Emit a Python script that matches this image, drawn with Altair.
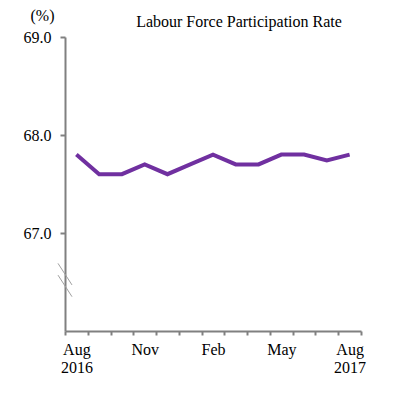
import altair as alt
import pandas as pd

months = ["Aug 2016", "Sep 2016", "Oct 2016", "Nov 2016", "Dec 2016", "Jan 2017",
          "Feb 2017", "Mar 2017", "Apr 2017", "May 2017", "Jun 2017", "Jul 2017", "Aug 2017"]
rate = [67.8, 67.6, 67.6, 67.7, 67.6, 67.7, 67.8, 67.7, 67.7, 67.8, 67.8, 67.74, 67.8]
tick_labels = [["Aug", "2016"], "", "", "Nov", "", "", "Feb", "", "", "May", "", "", ["Aug", "2017"]]
y_ticks = [67.0, 68.0, 69.0]
chart_title = "Labour Force Participation Rate"
unit_label = "(%)"
break_top = [66.69, 66.57]
break_bottom = [66.47, 66.35]

FONT = "Liberation Serif"
AXIS_COLOR = "#808080"
LINE_COLOR = "#7030A0"

df = pd.DataFrame({"idx": list(range(len(months))), "month": months, "rate": rate})


def lab(v):
    if isinstance(v, list):
        return "[" + ",".join("'%s'" % s for s in v) + "]"
    return "'%s'" % v


expr = "''"
for i in reversed(range(len(tick_labels))):
    if tick_labels[i] != "":
        expr = "datum.value == %d ? %s : (%s)" % (i, lab(tick_labels[i]), expr)

x_vals = [i * 0.5 - 0.5 for i in range(2 * len(months) + 1)]

x_scale = alt.Scale(domain=[-0.5, len(months) - 0.5], nice=False, zero=False)
y_scale = alt.Scale(domain=[66, 69], nice=False, zero=False)

x_axis = alt.Axis(
    title=None, values=x_vals, labelExpr=expr, grid=False,
    domainColor=AXIS_COLOR, domainWidth=2, tickColor=AXIS_COLOR, tickWidth=2, tickSize=4,
    tickOpacity={"condition": {"test": "datum.value % 1 == 0", "value": 0}, "value": 1},
    labelFont=FONT, labelFontSize=16, labelColor="#000000", labelPadding=6,
    labelFlush=False, labelOverlap=False, labelBound=False, labelLineHeight=18,
    labelBaseline="top",
)
y_axis = alt.Axis(
    title=unit_label, titleAngle=0, titleX=-23, titleY=-17, titleAlign="center",
    titleBaseline="alphabetic", titleFont=FONT, titleFontSize=16, titleFontWeight="normal",
    titleColor="#000000",
    values=y_ticks, format=".1f", grid=False,
    domainColor=AXIS_COLOR, domainWidth=2, tickColor=AXIS_COLOR, tickWidth=2, tickSize=5,
    labelFont=FONT, labelFontSize=16, labelColor="#000000", labelPadding=9,
)

line = alt.Chart(df).mark_line(color=LINE_COLOR, strokeWidth=4, strokeJoin="miter").encode(
    x=alt.X("idx:Q", scale=x_scale, axis=x_axis),
    y=alt.Y("rate:Q", scale=y_scale, axis=y_axis),
)

brk = alt.Chart(pd.DataFrame({"y1": break_top, "y2": break_bottom})).mark_rule(
    color="#A0A0A0", strokeWidth=1
).encode(
    x=alt.value(-7), x2=alt.value(7),
    y=alt.Y("y1:Q", scale=y_scale), y2="y2:Q",
)

title = alt.Chart(pd.DataFrame({"t": [chart_title]})).mark_text(
    font=FONT, fontSize=16, color="#000000", align="center", baseline="alphabetic"
).encode(x=alt.value(174), y=alt.value(-10), text="t:N")

chart = alt.layer(line, brk, title).properties(
    width=296, height=294,
    autosize=alt.AutoSizeParams(type="none"),
    padding={"left": 57, "top": 29, "right": 30, "bottom": 50},
).configure_view(stroke=None)

chart.save("out.html", embed_options={"renderer": "svg", "actions": False})
